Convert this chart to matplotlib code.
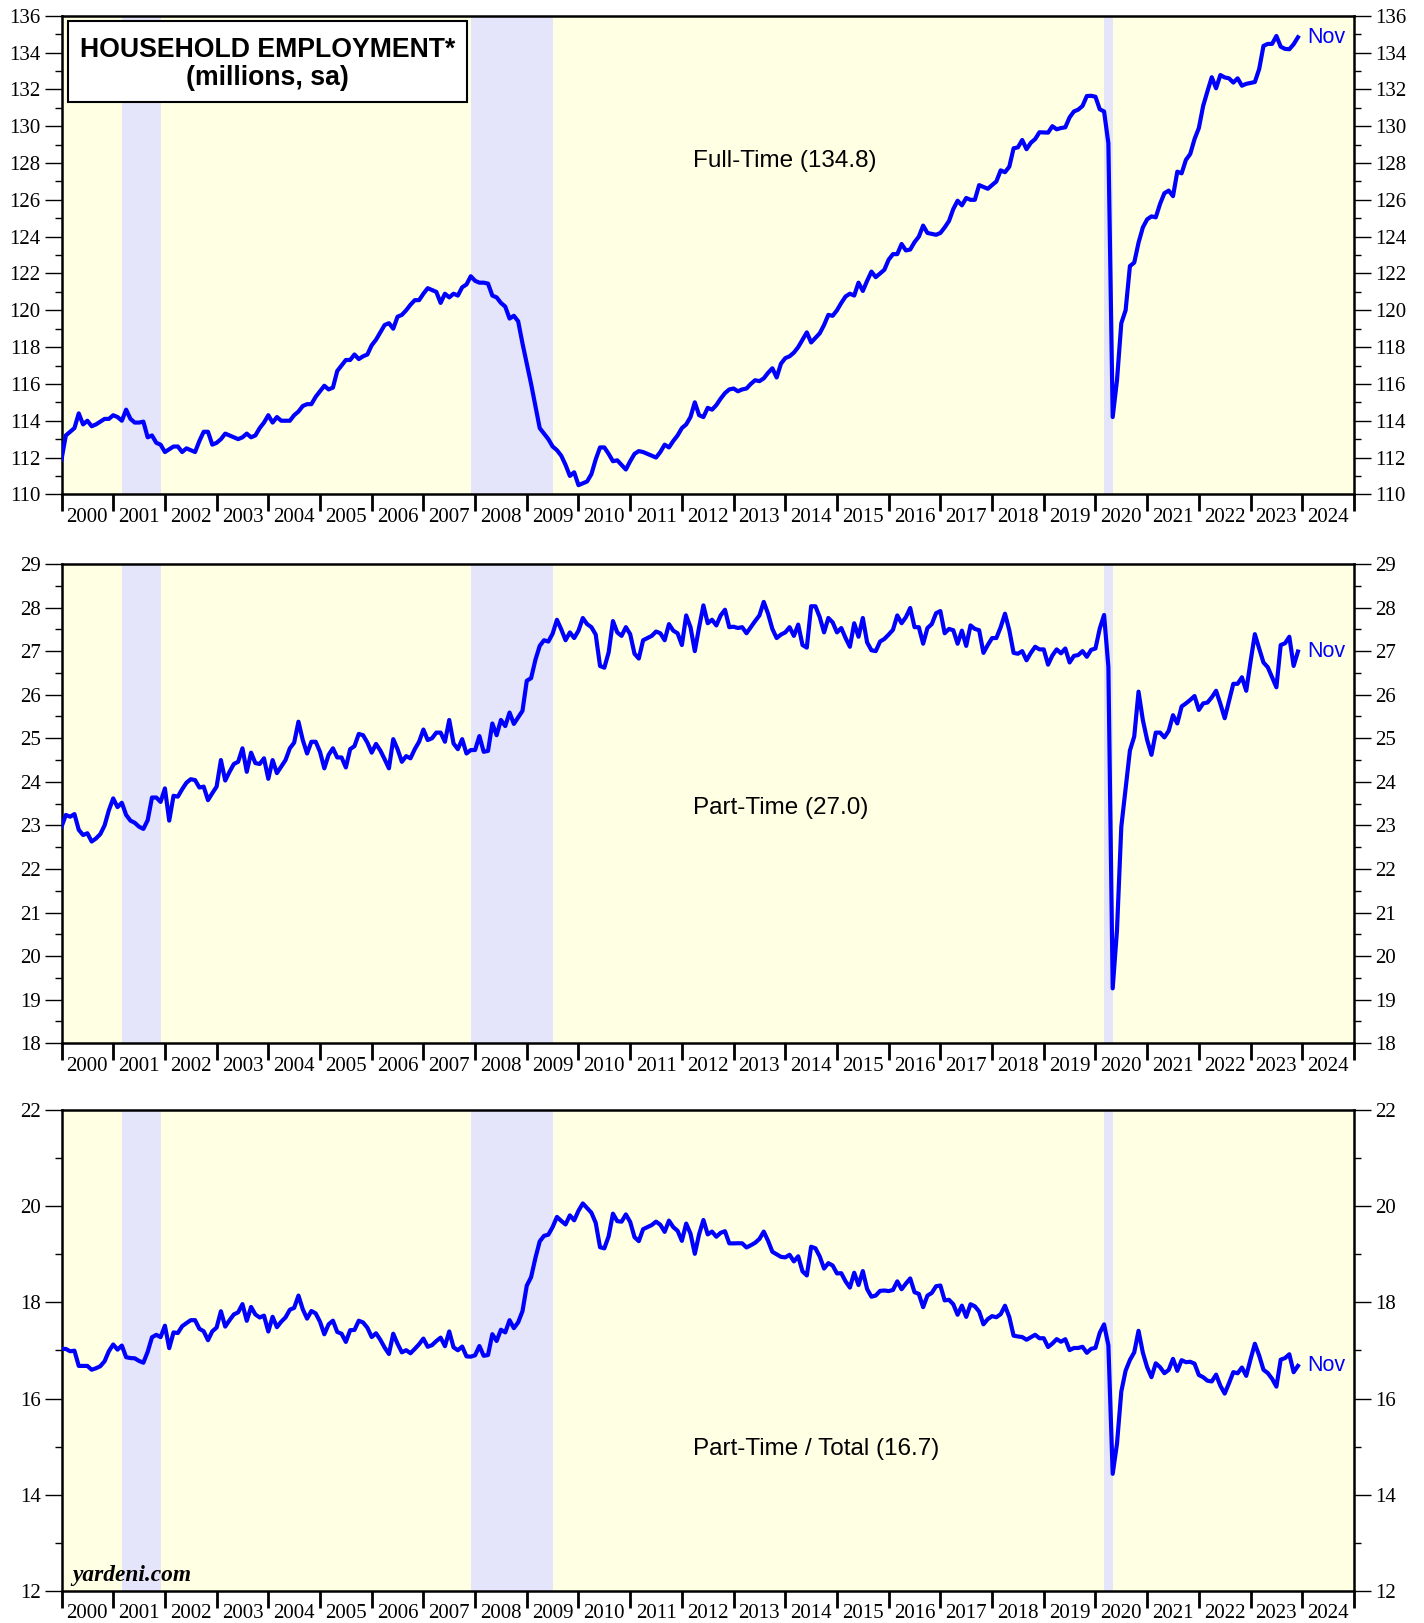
import numpy as np
import matplotlib
matplotlib.use("Agg")
import matplotlib.pyplot as plt
from matplotlib.ticker import MultipleLocator, FixedLocator, NullFormatter, FixedFormatter

plt.rcParams['font.family'] = ['Liberation Serif', 'DejaVu Serif']

# Household employment, millions, sa. Monthly, Dec 1999 .. Nov 2023
full_time = [
    111.9,
    113.2, 113.4, 113.6, 114.4, 113.8, 114.0, 113.7, 113.8, 113.95, 114.1, 114.1, 114.3,   # 2000
    114.2, 114.0, 114.6, 114.1, 113.9, 113.9, 113.95, 113.1, 113.2, 112.8, 112.7, 112.3,   # 2001
    112.45, 112.6, 112.6, 112.3, 112.5, 112.4, 112.3, 112.9, 113.4, 113.4, 112.7, 112.8,   # 2002
    113.0, 113.3, 113.2, 113.1, 113.0, 113.1, 113.3, 113.1, 113.2, 113.6, 113.9, 114.3,    # 2003
    113.9, 114.2, 114.0, 114.0, 114.0, 114.3, 114.5, 114.8, 114.9, 114.9, 115.3, 115.6,    # 2004
    115.9, 115.7, 115.8, 116.7, 117.0, 117.3, 117.3, 117.6, 117.35, 117.5, 117.6, 118.1,   # 2005
    118.4, 118.8, 119.2, 119.3, 119.0, 119.65, 119.75, 120.0, 120.3, 120.55, 120.55, 120.9,  # 2006
    121.2, 121.1, 121.0, 120.4, 120.9, 120.7, 120.9, 120.8, 121.25, 121.4, 121.85, 121.6,  # 2007
    121.5, 121.5, 121.45, 120.8, 120.7, 120.4, 120.2, 119.55, 119.7, 119.4, 118.2, 117.1,  # 2008
    116.0, 114.8, 113.6, 113.3, 113.0, 112.6, 112.4, 112.1, 111.6, 111.0, 111.2, 110.5,    # 2009
    110.6, 110.7, 111.1, 111.9, 112.55, 112.55, 112.2, 111.8, 111.85, 111.6, 111.35, 111.8,  # 2010
    112.2, 112.35, 112.3, 112.2, 112.1, 112.0, 112.3, 112.7, 112.55, 112.9, 113.2, 113.6,  # 2011
    113.8, 114.2, 115.0, 114.3, 114.2, 114.7, 114.6, 114.85, 115.2, 115.5, 115.7, 115.75,  # 2012
    115.6, 115.7, 115.75, 116.0, 116.2, 116.15, 116.3, 116.6, 116.85, 116.35, 117.1, 117.4,  # 2013
    117.5, 117.7, 118.0, 118.4, 118.8, 118.25, 118.5, 118.75, 119.2, 119.75, 119.7, 120.0,  # 2014
    120.4, 120.75, 120.9, 120.8, 121.5, 121.05, 121.6, 122.1, 121.8, 122.0, 122.2, 122.75,  # 2015
    123.05, 123.05, 123.6, 123.25, 123.3, 123.7, 124.0, 124.6, 124.2, 124.15, 124.1, 124.2,  # 2016
    124.5, 124.85, 125.5, 125.95, 125.7, 126.1, 126.0, 126.0, 126.8, 126.7, 126.6, 126.8,  # 2017
    127.0, 127.6, 127.5, 127.8, 128.8, 128.85, 129.25, 128.75, 129.1, 129.3, 129.67, 129.66,  # 2018
    129.65, 130.0, 129.83, 129.9, 129.94, 130.48, 130.8, 130.9, 131.1, 131.64, 131.65, 131.6,  # 2019
    130.92, 130.8, 129.07, 114.2, 116.2, 119.3, 120.0, 122.4, 122.59, 123.67, 124.5, 124.94,  # 2020
    125.1, 125.05, 125.78, 126.36, 126.5, 126.2, 127.53, 127.44, 128.17, 128.49, 129.3, 129.9,  # 2021
    131.1, 131.9, 132.66, 132.06, 132.78, 132.65, 132.6, 132.37, 132.6, 132.2, 132.3, 132.35,  # 2022
    132.4, 133.1, 134.36, 134.47, 134.47, 134.9, 134.32, 134.2, 134.18, 134.45, 134.83,    # 2023
]

part_time = [
    22.97,
    23.24, 23.2, 23.26, 22.9, 22.78, 22.82, 22.63, 22.7, 22.8, 23.0, 23.35, 23.62,   # 2000
    23.42, 23.52, 23.24, 23.11, 23.06, 22.97, 22.92, 23.12, 23.64, 23.64, 23.54, 23.85,  # 2001
    23.11, 23.68, 23.66, 23.83, 23.98, 24.06, 24.04, 23.87, 23.89, 23.58, 23.74, 23.89,  # 2002
    24.5, 24.03, 24.23, 24.41, 24.46, 24.77, 24.23, 24.67, 24.43, 24.41, 24.54, 24.07,   # 2003
    24.5, 24.2, 24.35, 24.5, 24.77, 24.9, 25.38, 24.96, 24.65, 24.92, 24.92, 24.69,      # 2004
    24.31, 24.62, 24.77, 24.56, 24.56, 24.33, 24.75, 24.82, 25.1, 25.07, 24.9, 24.67,    # 2005
    24.87, 24.72, 24.52, 24.31, 24.98, 24.75, 24.46, 24.59, 24.54, 24.75, 24.92, 25.2,   # 2006
    24.96, 25.0, 25.13, 25.13, 24.92, 25.42, 24.88, 24.75, 24.98, 24.65, 24.73, 24.73,   # 2007
    25.05, 24.69, 24.71, 25.34, 25.07, 25.42, 25.28, 25.59, 25.33, 25.48, 25.63, 26.32,  # 2008
    26.38, 26.8, 27.12, 27.25, 27.22, 27.4, 27.72, 27.5, 27.25, 27.43, 27.3, 27.47,      # 2009
    27.76, 27.62, 27.55, 27.38, 26.66, 26.62, 26.97, 27.69, 27.43, 27.35, 27.55, 27.39,  # 2010
    26.94, 26.83, 27.25, 27.3, 27.35, 27.45, 27.41, 27.25, 27.62, 27.47, 27.41, 27.14,  # 2011
    27.82, 27.55, 27.0, 27.55, 28.05, 27.64, 27.72, 27.59, 27.82, 27.95, 27.55, 27.56,   # 2012
    27.53, 27.55, 27.41, 27.55, 27.69, 27.82, 28.13, 27.86, 27.51, 27.3, 27.38, 27.43,   # 2013
    27.55, 27.35, 27.61, 27.14, 27.08, 28.03, 28.03, 27.78, 27.43, 27.76, 27.66, 27.43,  # 2014
    27.53, 27.3, 27.1, 27.64, 27.33, 27.76, 27.2, 27.02, 27.0, 27.22, 27.28, 27.38,      # 2015
    27.49, 27.82, 27.64, 27.78, 27.99, 27.55, 27.55, 27.17, 27.53, 27.62, 27.87, 27.92,  # 2016
    27.41, 27.51, 27.48, 27.17, 27.47, 27.12, 27.59, 27.51, 27.48, 26.96, 27.14, 27.3,   # 2017
    27.3, 27.55, 27.86, 27.48, 26.96, 26.94, 27.0, 26.79, 26.96, 27.1, 27.04, 27.04,     # 2018
    26.69, 26.9, 27.04, 26.95, 27.06, 26.74, 26.89, 26.91, 27.0, 26.87, 27.03, 27.06,    # 2019
    27.52, 27.83, 26.64, 19.26, 20.6, 22.97, 23.85, 24.72, 25.04, 26.07, 25.42, 24.96,   # 2020
    24.62, 25.13, 25.13, 25.02, 25.17, 25.53, 25.34, 25.73, 25.8, 25.88, 25.97, 25.65,   # 2021
    25.8, 25.82, 25.94, 26.09, 25.79, 25.46, 25.86, 26.25, 26.25, 26.4, 26.09, 26.76,    # 2022
    27.39, 27.06, 26.74, 26.63, 26.4, 26.17, 27.14, 27.18, 27.33, 26.66, 26.99,          # 2023
]

years = list(range(2000, 2025))
recessions = [("2001-03", "2001-11"), ("2007-12", "2009-06"), ("2020-03", "2020-04")]
last_month = "Nov"

ft = np.array(full_time)
pt = np.array(part_time)
share = pt / (ft + pt) * 100
# month-end positions, first value (Dec 1999) sits on 2000.0
t = 2000 + np.arange(len(ft)) / 12


def ym(s):
    y, m = s.split("-")
    return int(y), int(m)


BLUE = "#0000FF"
BG = "#FFFFE3"
SHADE = "#E4E4FA"
SANS = ['Liberation Sans', 'DejaVu Sans']

fig = plt.figure(figsize=(14.24, 16.23), dpi=100)

panels = [
    # series, ylim, major, minor, label, label y (axes frac), rect
    (ft, (110, 136), 2, 1, "Full-Time (%.1f)" % ft[-1], 0.697, [0.0432, 0.6954, 0.9076, 0.2949]),
    (pt, (18, 29), 1, 0.5, "Part-Time (%.1f)" % pt[-1], 0.491, [0.0432, 0.3572, 0.9076, 0.2953]),
    (share, (12, 22), 2, 1, "Part-Time / Total (%.1f)" % share[-1], 0.294, [0.0432, 0.0200, 0.9076, 0.2958]),
]

axes = []
for series, ylim, major, minor, label, ly, rect in panels:
    ax = fig.add_axes(rect)
    ax.set_facecolor(BG)
    for start, end in recessions:
        sy, sm = ym(start)
        ey, em = ym(end)
        ax.axvspan(sy + (sm - 1) / 12, ey + em / 12, color=SHADE, lw=0, zorder=1)
    ax.plot(t, series, color=BLUE, lw=3.0, zorder=3, solid_joinstyle='round')
    ax.set_xlim(2000, 2025)
    ax.set_ylim(*ylim)

    ax.yaxis.set_major_locator(MultipleLocator(major))
    ax.yaxis.set_minor_locator(MultipleLocator(minor))
    ax.tick_params(axis='y', which='major', direction='out', length=12, width=1,
                   labelsize=15, left=True, right=True, labelleft=True, labelright=True, pad=3)
    ax.tick_params(axis='y', which='minor', direction='out', length=5, width=1,
                   left=True, right=True)

    ax.xaxis.set_major_locator(FixedLocator(years + [2025]))
    ax.xaxis.set_major_formatter(NullFormatter())
    ax.xaxis.set_minor_locator(FixedLocator([y + 0.5 for y in years]))
    ax.xaxis.set_minor_formatter(FixedFormatter([str(y) for y in years]))
    ax.tick_params(axis='x', which='major', direction='out', length=12.5, width=2)
    ax.tick_params(axis='x', which='minor', length=0, labelsize=15, pad=10)

    for s in ax.spines.values():
        s.set_linewidth(1.8)

    ax.text(0.4886, ly, label, transform=ax.transAxes, fontsize=17.5,
            family=SANS, va='center', ha='left', zorder=4)
    ax.annotate(last_month, xy=(t[-1], series[-1]), xytext=(7, 0),
                textcoords='offset points', color=BLUE, fontsize=15.5,
                family=SANS, va='center', ha='left', zorder=4)
    axes.append(ax)

# title box on the top panel
ax = axes[0]
ax.add_patch(plt.Rectangle((0.005, 0.820), 0.309, 0.169, transform=ax.transAxes,
                           facecolor='white', edgecolor='black', lw=1.5, zorder=5))
ax.text(0.1595, 0.899, "HOUSEHOLD EMPLOYMENT*\n(millions, sa)", transform=ax.transAxes,
        fontsize=19.2, fontweight='bold', family=SANS, ha='center', va='center',
        multialignment='center', linespacing=1.1, zorder=6)

axes[2].text(0.008, 0.02, "yardeni.com", transform=axes[2].transAxes, fontsize=16.8,
             fontweight='bold', style='italic', va='baseline', ha='left', zorder=6)

fig.savefig("out.png", dpi=100)
